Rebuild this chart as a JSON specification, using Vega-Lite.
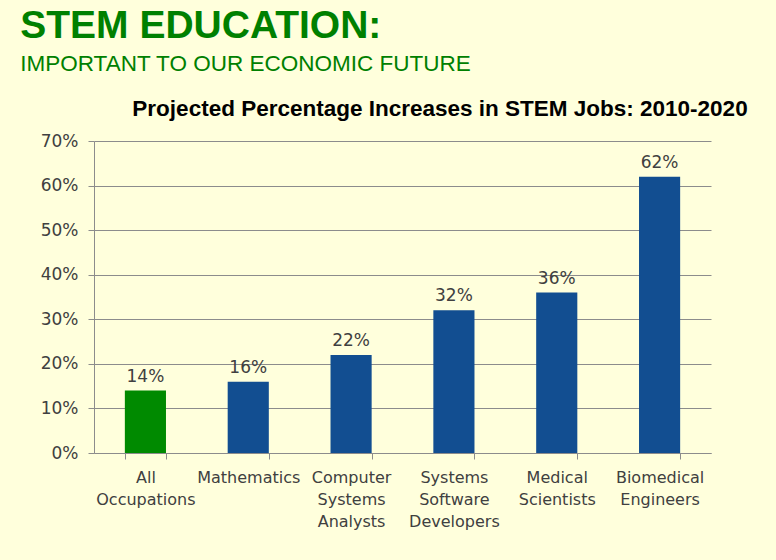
{
  "$schema": "https://vega.github.io/schema/vega-lite/v6.json",
  "background": "#FFFFDC",
  "padding": {"left": 20, "top": 7, "right": 63, "bottom": 33},
  "title": {
    "text": "STEM EDUCATION:",
    "subtitle": "IMPORTANT TO OUR ECONOMIC FUTURE",
    "anchor": "start",
    "dx": -20,
    "font": "Liberation Sans",
    "fontSize": 39,
    "fontWeight": "bold",
    "color": "#008000",
    "subtitleFont": "Liberation Sans",
    "subtitleFontSize": 22.5,
    "subtitleColor": "#008000",
    "subtitlePadding": 7,
    "offset": 22
  },
  "data": {
    "values": [
      {"category": "All|Occupations", "value": 0.14, "group": "All"},
      {"category": "Mathematics", "value": 0.16, "group": "STEM"},
      {"category": "Computer|Systems|Analysts", "value": 0.22, "group": "STEM"},
      {"category": "Systems|Software|Developers", "value": 0.32, "group": "STEM"},
      {"category": "Medical|Scientists", "value": 0.36, "group": "STEM"},
      {"category": "Biomedical|Engineers", "value": 0.62, "group": "STEM"}
    ]
  },
  "vconcat": [
    {
      "width": 617,
      "height": 312,
      "title": {
        "text": "Projected Percentage Increases in STEM Jobs: 2010-2020",
        "font": "Liberation Sans",
        "fontSize": 22.5,
        "fontWeight": "bold",
        "color": "#000000",
        "anchor": "middle",
        "frame": "group",
        "dx": 37.5,
        "offset": 12
      },
      "encoding": {
        "x": {
          "field": "category",
          "type": "nominal",
          "sort": null,
          "scale": {"paddingInner": 0.6, "paddingOuter": 0.3},
          "axis": {
            "title": null,
            "labelAngle": 0,
            "labelExpr": "split(datum.label, '|')",
            "labelFont": "DejaVu Sans",
            "labelFontSize": 16,
            "labelColor": "#404040",
            "labelLineHeight": 22,
            "labelPadding": 10,
            "labelOverlap": false,
            "labelBound": false,
            "tickBand": "extent",
            "tickSize": 6,
            "tickColor": "#8c8c8c",
            "domainColor": "#8c8c8c",
            "grid": false
          }
        },
        "y": {
          "field": "value",
          "type": "quantitative",
          "scale": {"domain": [0, 0.7], "nice": false},
          "axis": {
            "title": null,
            "format": ".0%",
            "values": [0, 0.1, 0.2, 0.3, 0.4, 0.5, 0.6, 0.7],
            "labelFont": "DejaVu Sans",
            "labelFontSize": 17,
            "labelColor": "#404040",
            "labelPadding": 10,
            "tickSize": 6,
            "tickColor": "#8c8c8c",
            "domainColor": "#8c8c8c",
            "gridColor": "#8c8c8c",
            "gridOpacity": 1
          }
        }
      },
      "layer": [
        {
          "mark": {"type": "bar"},
          "encoding": {
            "color": {
              "field": "group",
              "type": "nominal",
              "scale": {"domain": ["All", "STEM"], "range": ["#008A00", "#124E91"]},
              "legend": null
            }
          }
        },
        {
          "mark": {"type": "text", "font": "DejaVu Sans", "fontSize": 17, "color": "#404040", "baseline": "alphabetic", "dy": -9},
          "encoding": {
            "text": {"field": "value", "type": "quantitative", "format": ".0%"}
          }
        }
      ]
    }
  ],
  "config": {
    "view": {"stroke": null}
  }
}
